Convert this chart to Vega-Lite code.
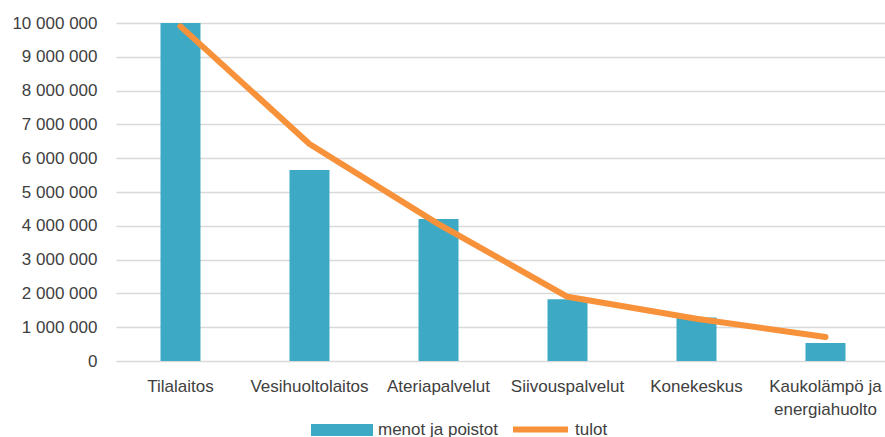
{
  "$schema": "https://vega.github.io/schema/vega-lite/v6.json",
  "autosize": {"type": "none"},
  "width": 774,
  "height": 338,
  "padding": {"left": 116, "top": 23, "right": 0, "bottom": 76},
  "background": "white",
  "config": {
    "font": "Liberation Sans",
    "view": {"stroke": null},
    "axis": {"labelFont": "Liberation Sans", "labelFontSize": 17, "labelColor": "#404040", "ticks": false, "domain": false, "title": null},
    "axisY": {"tickCount": 11, "labelOverlap": false, "grid": true, "gridColor": "#D9D9D9", "gridWidth": 1.5, "labelPadding": 19},
    "legend": {"labelFont": "Liberation Sans", "labelFontSize": 17, "labelColor": "#404040", "title": null}
  },
  "data": {
    "values": [
      {"kohde": "Tilalaitos", "menot": 10000000, "tulot": 9900000},
      {"kohde": "Vesihuoltolaitos", "menot": 5650000, "tulot": 6420000},
      {"kohde": "Ateriapalvelut", "menot": 4200000, "tulot": 4050000},
      {"kohde": "Siivouspalvelut", "menot": 1830000, "tulot": 1900000},
      {"kohde": "Konekeskus", "menot": 1290000, "tulot": 1250000},
      {"kohde": "Kaukolämpö ja energiahuolto", "menot": 530000, "tulot": 710000}
    ]
  },
  "encoding": {
    "x": {
      "field": "kohde", "type": "nominal", "sort": null,
      "scale": {"paddingInner": 0, "paddingOuter": 0},
      "axis": {"labelAngle": 0, "grid": false, "labelPadding": 17, "labelLineHeight": 23,
        "labelExpr": "datum.value == 'Kaukolämpö ja energiahuolto' ? ['Kaukolämpö ja', 'energiahuolto'] : datum.value"}
    },
    "y": {"field": "menot", "type": "quantitative",
      "scale": {"domain": [0, 10000000], "nice": false},
      "axis": {"values": [0,1000000,2000000,3000000,4000000,5000000,6000000,7000000,8000000,9000000,10000000],
        "tickCount": 11, "labelOverlap": false,
        "labelExpr": "datum.value == 0 ? '0' : format(datum.value / 1000000, 'd') + ' 000 000'"}}
  },
  "layer": [
    {
      "mark": {"type": "bar", "width": {"band": 0.31}},
      "encoding": {
        "color": {"datum": "menot ja poistot", "type": "nominal",
          "scale": {"domain": ["menot ja poistot"], "range": ["#3EA9C5"]},
          "legend": {"orient": "none", "legendX": 194, "legendY": 375, "symbolType": "M-1,-0.19L1,-0.19L1,0.19L-1,0.19Z", "symbolSize": 3844, "symbolOpacity": 1, "labelOffset": 4}}
      }
    },
    {
      "mark": {"type": "line", "strokeWidth": 6, "strokeCap": "round", "strokeJoin": "round"},
      "encoding": {
        "y": {"field": "tulot", "type": "quantitative"},
        "stroke": {"datum": "tulot", "type": "nominal",
          "scale": {"domain": ["tulot"], "range": ["#F7923A"]},
          "legend": {"orient": "none", "legendX": 394, "legendY": 376, "symbolType": "stroke", "symbolSize": 3025, "symbolStrokeWidth": 6, "labelOffset": 4}}
      }
    }
  ]
}
